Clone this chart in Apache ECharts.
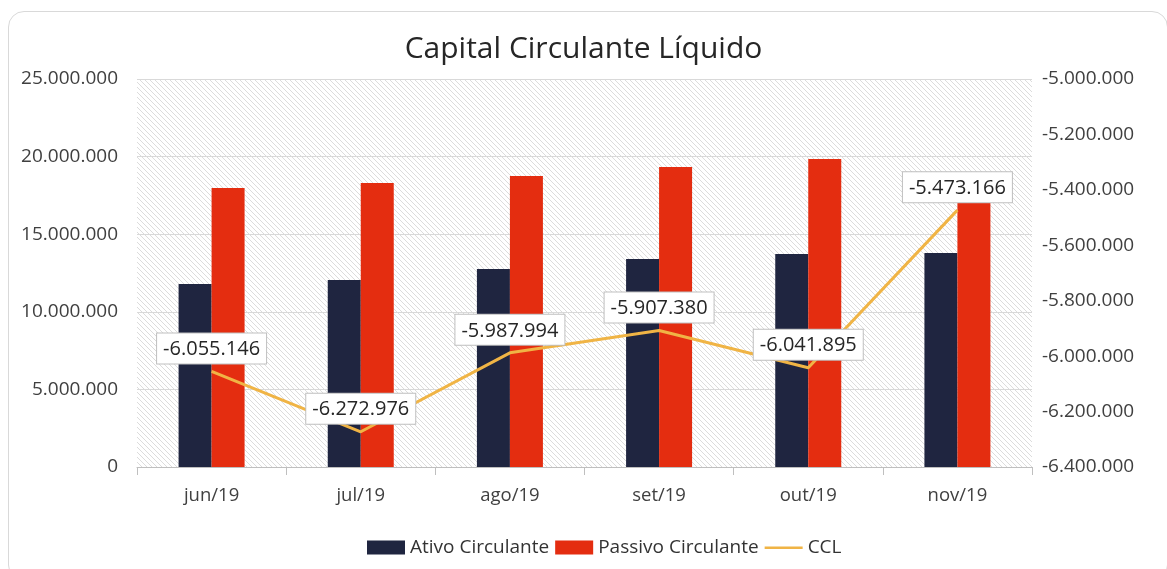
<!DOCTYPE html>
<html>
<head>
<meta charset="utf-8">
<script src="https://cdn.jsdelivr.net/npm/echarts@6/dist/echarts.min.js"></script>
<style>
  html, body { margin: 0; padding: 0; background: #fff; }
  #frame {
    position: absolute; left: 8px; top: 11px; width: 1160px; height: 570px;
    border: 1px solid #d9d9d9; border-radius: 16px; box-sizing: border-box;
  }
  #main { position: absolute; left: 0; top: 0; width: 1167px; height: 569px; }
</style>
</head>
<body>
<div id="frame"></div>
<div id="main"></div>
<script>
// dados do grafico
var meses = ['jun/19', 'jul/19', 'ago/19', 'set/19', 'out/19', 'nov/19'];
var ativoCirculante = [11790000, 12050000, 12760000, 13400000, 13720000, 13790000];
var passivoCirculante = [17980000, 18300000, 18750000, 19330000, 19850000, 17070000];
var ccl = [-6055146, -6272976, -5987994, -5907380, -6041895, -5473166];

// formata numero com ponto como separador de milhar
function fmt(v) {
  var neg = v < 0;
  var s = String(Math.round(Math.abs(v)));
  s = s.replace(/\B(?=(\d{3})+(?!\d))/g, '.');
  return (neg ? '-' : '') + s;
}

// fundo hachurado da area do grafico
var hatch = document.createElement('canvas');
hatch.width = 5; hatch.height = 5;
var ctx = hatch.getContext('2d');
ctx.fillStyle = '#ffffff';
ctx.fillRect(0, 0, 5, 5);
ctx.strokeStyle = '#dcdcdc';
ctx.lineWidth = 1;
ctx.beginPath();
ctx.moveTo(0, 0); ctx.lineTo(5, 5);
ctx.moveTo(-2.5, 2.5); ctx.lineTo(2.5, 7.5);
ctx.moveTo(2.5, -2.5); ctx.lineTo(7.5, 2.5);
ctx.stroke();

var fonte = '"Open Sans", "Noto Sans", sans-serif';
var myChart = echarts.init(document.getElementById('main'));
var option = {
  textStyle: { fontFamily: fonte },
  title: {
    text: 'Capital Circulante Líquido',
    left: 'center',
    top: 29,
    textStyle: { fontSize: 30, fontWeight: 'normal', color: '#262626', fontFamily: fonte }
  },
  legend: {
    bottom: 7,
    left: 362,
    itemWidth: 38,
    itemHeight: 14,
    itemGap: 6,
    textStyle: { fontSize: 19, color: '#333', fontFamily: fonte },
    data: [
      { name: 'Ativo Circulante', icon: 'rect' },
      { name: 'Passivo Circulante', icon: 'rect' },
      // so a linha, sem marcador
      { name: 'CCL', icon: 'path://M0,0 M0,6 L38,6 L38,8.5 L0,8.5 Z M38,14' }
    ]
  },
  grid: {
    left: 137, right: 135, top: 79, bottom: 102,
    show: true,
    borderWidth: 0,
    backgroundColor: { image: hatch, repeat: 'repeat' }
  },
  xAxis: {
    type: 'category',
    data: meses,
    axisLine: { lineStyle: { color: '#bfbfbf' } },
    axisTick: { show: true, length: 8, lineStyle: { color: '#bfbfbf' } },
    axisLabel: { fontSize: 18.5, color: '#404040', margin: 19 }
  },
  yAxis: [
    {
      type: 'value',
      min: 0, max: 25000000, interval: 5000000,
      axisLine: { show: false },
      axisTick: { show: false },
      splitLine: { lineStyle: { color: '#d9d9d9', width: 1 } },
      axisLabel: { fontSize: 19, color: '#404040', margin: 19, formatter: fmt }
    },
    {
      type: 'value',
      min: -6400000, max: -5000000, interval: 200000,
      axisLine: { show: false },
      axisTick: { show: false },
      splitLine: { show: false },
      axisLabel: { fontSize: 19, color: '#404040', margin: 10, formatter: fmt }
    }
  ],
  series: [
    {
      name: 'Ativo Circulante',
      type: 'bar',
      barWidth: 33,
      barGap: '0%',
      itemStyle: { color: '#1f2540' },
      data: ativoCirculante
    },
    {
      name: 'Passivo Circulante',
      type: 'bar',
      barWidth: 33,
      barGap: '0%',
      itemStyle: { color: '#e42d10' },
      data: passivoCirculante
    },
    {
      name: 'CCL',
      type: 'line',
      yAxisIndex: 1,
      symbol: 'none',
      lineStyle: { color: '#f0b445', width: 3 },
      itemStyle: { color: '#f0b445' },
      data: ccl
    },
    {
      // rotulos da linha CCL
      name: 'CCL rotulos',
      type: 'scatter',
      yAxisIndex: 1,
      symbolSize: 0,
      silent: true,
      z: 5,
      itemStyle: { opacity: 1, color: '#f0b445' },
      label: {
        show: true,
        position: 'top',
        distance: 8,
        fontSize: 20,
        fontFamily: fonte,
        color: '#262626',
        backgroundColor: '#ffffff',
        borderColor: '#bfbfbf',
        borderWidth: 1,
        padding: [6, 6, 4, 6],
        formatter: function (p) { return fmt(p.value); }
      },
      data: ccl
    }
  ]
};
myChart.setOption(option);
</script>
</body>
</html>
